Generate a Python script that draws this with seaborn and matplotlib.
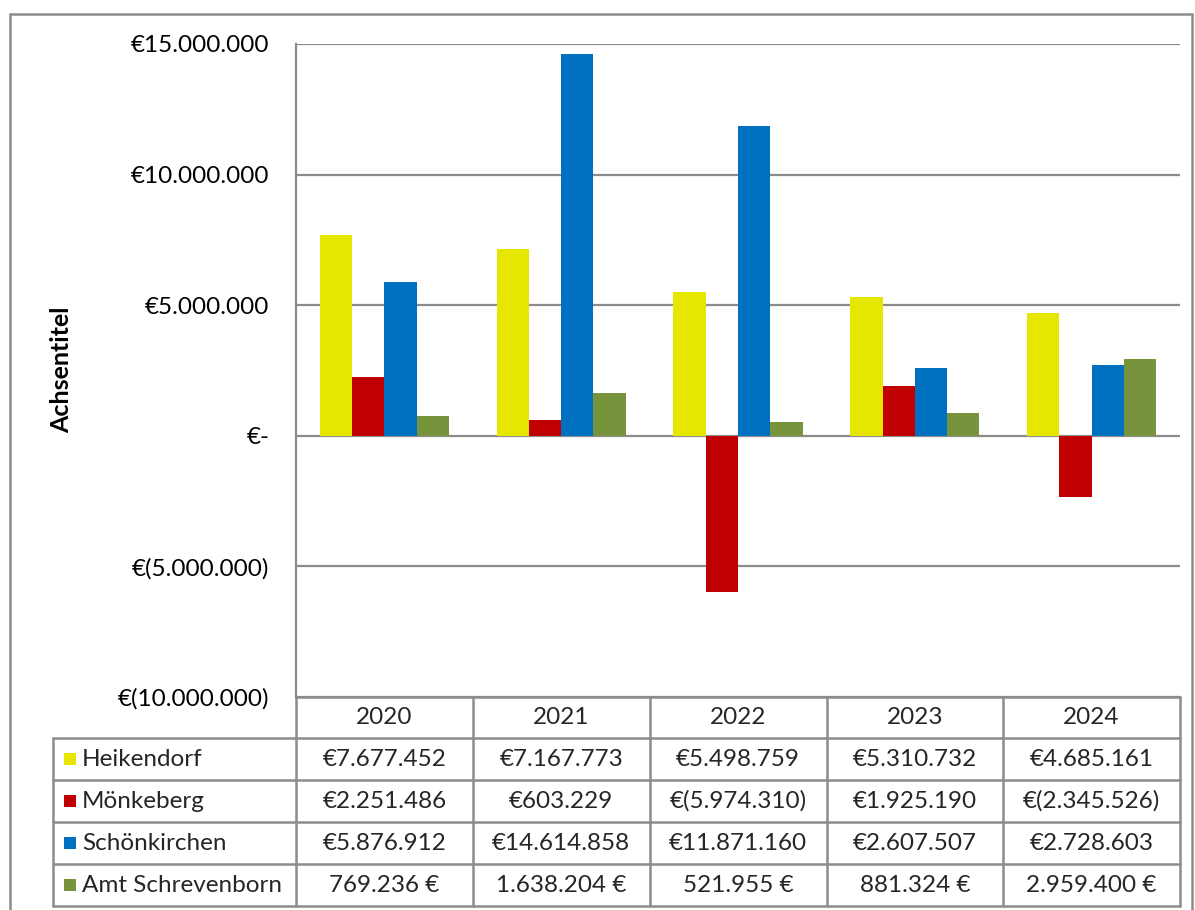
import matplotlib
matplotlib.use("Agg")
import matplotlib.pyplot as plt
import matplotlib.transforms as mtrans
from matplotlib.lines import Line2D
from matplotlib.patches import Rectangle
import seaborn as sns
import pandas as pd

# Data
years = ["2020", "2021", "2022", "2023", "2024"]
gemeinden = ["Heikendorf", "Mönkeberg", "Schönkirchen", "Amt Schrevenborn"]
heikendorf = [7677452, 7167773, 5498759, 5310732, 4685161]
moenkeberg = [2251486, 603229, -5974310, 1925190, -2345526]
schoenkirchen = [5876912, 14614858, 11871160, 2607507, 2728603]
schrevenborn = [769236, 1638204, 521955, 881324, 2959400]
colors = ["#E6E600", "#C00000", "#0070C0", "#77933C"]
y_ticks = [-10000000, -5000000, 0, 5000000, 10000000, 15000000]

series = [heikendorf, moenkeberg, schoenkirchen, schrevenborn]
df = pd.DataFrame(
    [(y, g, v) for g, vals in zip(gemeinden, series) for y, v in zip(years, vals)],
    columns=["Jahr", "Gemeinde", "Wert"],
)


def euro_acc(v):
    """Excel accounting style: €1.234 / €(1.234) / €-"""
    if v == 0:
        return "€-"
    s = f"{abs(v):,.0f}".replace(",", ".")
    return f"€({s})" if v < 0 else f"€{s}"


def euro_suffix(v):
    s = f"{abs(v):,.0f}".replace(",", ".")
    return ("-" if v < 0 else "") + s + " €"


sns.set_theme(style="white")
plt.rcParams["font.family"] = ["Lato", "DejaVu Sans"]

W, H = 1195, 910
fig = plt.figure(figsize=(W / 100, H / 100), dpi=100)


def fx(x):
    return x / W


def fy(y):
    return 1 - y / H


line_col = "#8C8C8C"
fs = 17.5

# Plot area
ax = fig.add_axes([fx(296), fy(697), fx(1180) - fx(296), fy(44) - fy(697)])
sns.barplot(data=df, x="Jahr", y="Wert", hue="Gemeinde", hue_order=gemeinden,
            order=years, palette=colors, width=0.73, gap=0, saturation=1,
            errorbar=None, legend=False, ax=ax, zorder=2,
            edgecolor="none", linewidth=0)
ax.set_xlim(-0.5, len(years) - 0.5)
ax.set_ylim(y_ticks[0], y_ticks[-1])
ax.set_yticks(y_ticks)
ax.set_yticklabels([euro_acc(v) for v in y_ticks])
ax.tick_params(axis="y", length=0, pad=19, labelsize=fs, labelcolor="black")
ax.set_xticks([])
ax.set_xlabel("")
ax.set_ylabel("")
for v in y_ticks:
    ax.axhline(v, color=line_col, lw=1.6, zorder=0)
for side in ["top", "right", "bottom"]:
    ax.spines[side].set_visible(False)
ax.spines["left"].set_color(line_col)
ax.spines["left"].set_linewidth(1.6)

fig.text(fx(62), fy(370), "Achsentitel", rotation=90, fontweight="bold",
         fontsize=18, ha="center", va="center", color="black")

# Data table below the chart
tr = mtrans.blended_transform_factory(ax.transData, fig.transFigure)


def hline(x0, x1, y):
    fig.add_artist(Line2D([fx(x0), fx(x1)], [fy(y), fy(y)], color=line_col, lw=1.8))


def vline(x, y0, y1):
    fig.add_artist(Line2D([fx(x), fx(x)], [fy(y0), fy(y1)], color=line_col, lw=1.8))


row_edges = [738, 780, 822, 864, 906]
hline(296, 1180, 697)
for y in row_edges:
    hline(53, 1180, y)
vline(53, 738, 906)
for x in [296, 473, 650, 827, 1003, 1180]:
    vline(x, 697, 906)

for i, yr in enumerate(years):
    fig.text(i, fy(717.5), yr, transform=tr, ha="center", va="center", fontsize=fs)

for r, (name, vals, col) in enumerate(zip(gemeinden, series, colors)):
    yc = (row_edges[r] + row_edges[r + 1]) / 2
    fig.add_artist(Rectangle((fx(64), fy(yc + 6)), fx(12), fy(yc - 6) - fy(yc + 6),
                             facecolor=col, edgecolor="none", transform=fig.transFigure))
    fig.text(fx(82), fy(yc), name, ha="left", va="center", fontsize=fs)
    fmt = euro_suffix if name == "Amt Schrevenborn" else euro_acc
    for i, v in enumerate(vals):
        fig.text(i, fy(yc), fmt(v), transform=tr, ha="center", va="center", fontsize=fs)

# Chart frame
vline(10, 14, 910)
hline(10, 1192, 14)
vline(1192, 14, 910)

fig.savefig("out.png", dpi=100)
plt.close(fig)
